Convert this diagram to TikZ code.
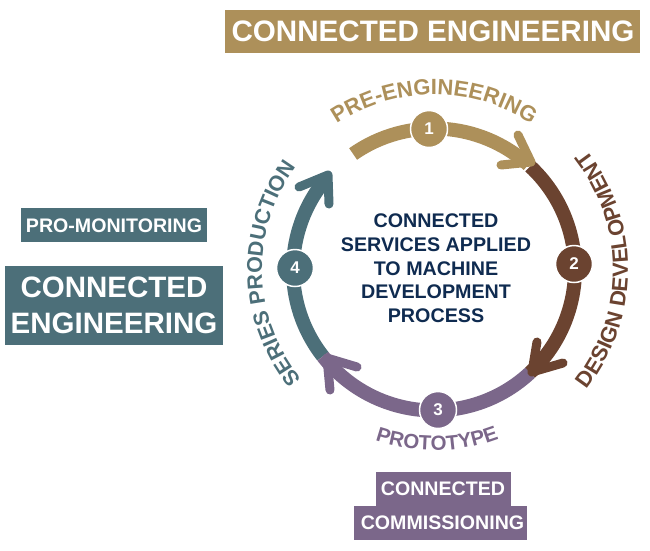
\documentclass[tikz,border=0pt]{standalone}
\usepackage{fontspec}
\setmainfont{Liberation Sans}
\usetikzlibrary{decorations.text}
\definecolor{goldc}{HTML}{AD905A}
\definecolor{brownc}{HTML}{6B4330}
\definecolor{purplec}{HTML}{7B678A}
\definecolor{tealc}{HTML}{4C6F79}
\definecolor{navyc}{HTML}{0F2B50}
\tikzset{
  x=1pt,y=-1pt,
  ring/.style={line width=14pt,line cap=butt},
  head/.style={line width=9pt,line cap=round,line join=round},
  numdisc/.style={circle,draw=white,line width=1.5pt,minimum size=37pt,inner sep=0pt,text=white,font=\bfseries\fontsize{17}{17}\selectfont},
  tag/.style={inner sep=0pt,text=white,align=center}
}
\begin{document}
\begin{tikzpicture}
\useasboundingbox (0,0) rectangle (650,550);
\coordinate (c) at (434,269.5);
% boxes
\fill[goldc] (225,10) rectangle (640,53);
\node[tag,font=\bfseries\fontsize{29.6}{29.6}\selectfont] (t1) at (433,31) {CONNECTED ENGINEERING};
\fill[tealc] (21,208) rectangle (207,242);
\node[tag,font=\bfseries\fontsize{19.6}{19.6}\selectfont] (t2) at (114,226) {PRO-MONITORING};
\fill[tealc] (5,266) rectangle (223,345);
\node[tag,font=\bfseries\fontsize{29.5}{35.5}\selectfont] (t3) at (114,305.5) {CONNECTED\\ENGINEERING};
\fill[purplec] (376,472) rectangle (511,506);
\node[tag,font=\bfseries\fontsize{19.6}{19.6}\selectfont] (t4) at (443,489) {CONNECTED};
\fill[purplec] (354,506) rectangle (527,540);
\node[tag,font=\bfseries\fontsize{19.6}{19.6}\selectfont] (t5) at (442.5,523) {COMMISSIONING};
% ring : angles are measured clockwise in this flipped frame
\draw[ring,tealc] ([shift={(-218:141)}]c) arc[start angle=-218,end angle=-140,radius=141];
\draw[ring,purplec] ([shift={(47:141)}]c) arc[start angle=47,end angle=142,radius=141];
\draw[ring,brownc] ([shift={(-47:141)}]c) arc[start angle=-47,end angle=47,radius=141];
\draw[ring,goldc] ([shift={(-125:141)}]c) arc[start angle=-125,end angle=-48,radius=141];
% arrowheads
\draw[head,goldc] (518,135) -- (531,162) -- (501,165);
\draw[head,brownc] (537,342) -- (532,372) -- (563,363);
\draw[head,purplec] (330,390) -- (327,358) -- (357,367);
\draw[head,tealc] (299,187) -- (328,175) -- (329,204);
% discs
\node[numdisc,fill=goldc] (n1) at (429,129) {1};
\node[numdisc,fill=brownc] (n2) at (574,264) {2};
\node[numdisc,fill=purplec] (n3) at (438,410) {3};
\node[numdisc,fill=tealc] (n4) at (295,268) {4};
% centre text
\node[align=center,text=navyc,font=\bfseries\fontsize{19.7}{23.7}\selectfont] (mid) at (436,268.5) {CONNECTED\\SERVICES APPLIED\\TO MACHINE\\DEVELOPMENT\\PROCESS};
% curved labels
\path[decorate,decoration={text along path,text align=center,
  text={|\bfseries\fontsize{22}{22}\selectfont\color{goldc}|PRE-ENGINEERING}}]
  ([shift={(-128:175)}]c) arc[start angle=-128,end angle=-52,radius=175];
\path[decorate,decoration={text along path,text align=center,
  text={|\bfseries\fontsize{22}{22}\selectfont\color{brownc}|DESIGN DEVELOPMENT}}]
  ([shift={(50:194)}]c) arc[start angle=50,end angle=-50,radius=194];
\path[decorate,decoration={text along path,text align=center,
  text={|\bfseries\fontsize{20.5}{20.5}\selectfont\color{purplec}|PROTOTYPE}}]
  ([shift={(115:181)}]c) arc[start angle=115,end angle=63,radius=181];
\path[decorate,decoration={text along path,text align=center,
  text={|\bfseries\fontsize{21.5}{21.5}\selectfont\color{tealc}|SERIES PRODUCTION}}]
  ([shift={(128:172)}]c) arc[start angle=128,end angle=229,radius=172];
\end{tikzpicture}
\end{document}
